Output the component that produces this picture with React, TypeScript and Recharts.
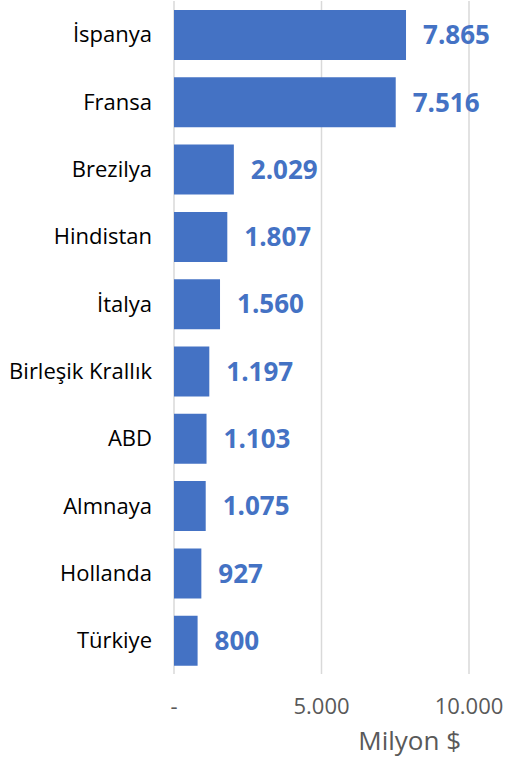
import React from 'react';
import { BarChart, Bar, XAxis, YAxis, CartesianGrid, LabelList } from 'recharts';

const countries = ['İspanya', 'Fransa', 'Brezilya', 'Hindistan', 'İtalya', 'Birleşik Krallık', 'ABD', 'Almnaya', 'Hollanda', 'Türkiye'];
const values = [7865, 7516, 2029, 1807, 1560, 1197, 1103, 1075, 927, 800];
const xTicks = [0, 5000, 10000];
const axisTitle = 'Milyon $';

const data = countries.map((c, i) => ({ name: c, value: values[i] }));

const FONT = '"Open Sans", "DejaVu Sans", sans-serif';
const fmt = (v: number) => (v === 0 ? '-' : v.toLocaleString('de-DE'));

export default function App() {
  return (
    <div style={{ position: 'absolute', left: 0, top: 0, width: 507, height: 760, background: '#fff' }}>
      <BarChart
        width={507}
        height={760}
        data={data}
        layout="vertical"
        margin={{ top: 1, right: 38, bottom: 0, left: 0 }}
        style={{ fontFamily: FONT }}
      >
        <CartesianGrid horizontal={false} stroke="#d9d9d9" strokeWidth={1.5} />
        <XAxis
          type="number"
          domain={[0, 10000]}
          ticks={xTicks}
          tickFormatter={fmt}
          axisLine={false}
          tickLine={false}
          tickSize={0}
          tickMargin={24}
          height={86}
          tick={{ fill: '#595959', fontSize: 22, fontFamily: FONT }}
          interval={0}
          label={{ value: axisTitle, position: 'insideBottomRight', offset: 0, dx: -8, dy: -10, fill: '#595959', fontSize: 26, fontFamily: FONT }}
        />
        <YAxis
          type="category"
          dataKey="name"
          width={174}
          axisLine={false}
          tickLine={false}
          tickSize={0}
          tickMargin={22}
          interval={0}
          tick={{ fill: '#000', fontSize: 22, fontFamily: FONT }}
        />
        <Bar dataKey="value" fill="#4472C4" barSize={50} isAnimationActive={false}>
          <LabelList
            dataKey="value"
            position="right"
            offset={17}
            formatter={(v: number) => fmt(v)}
            style={{ fill: '#4472C4', fontSize: 26, fontWeight: 700, fontFamily: FONT }}
          />
        </Bar>
      </BarChart>
    </div>
  );
}
